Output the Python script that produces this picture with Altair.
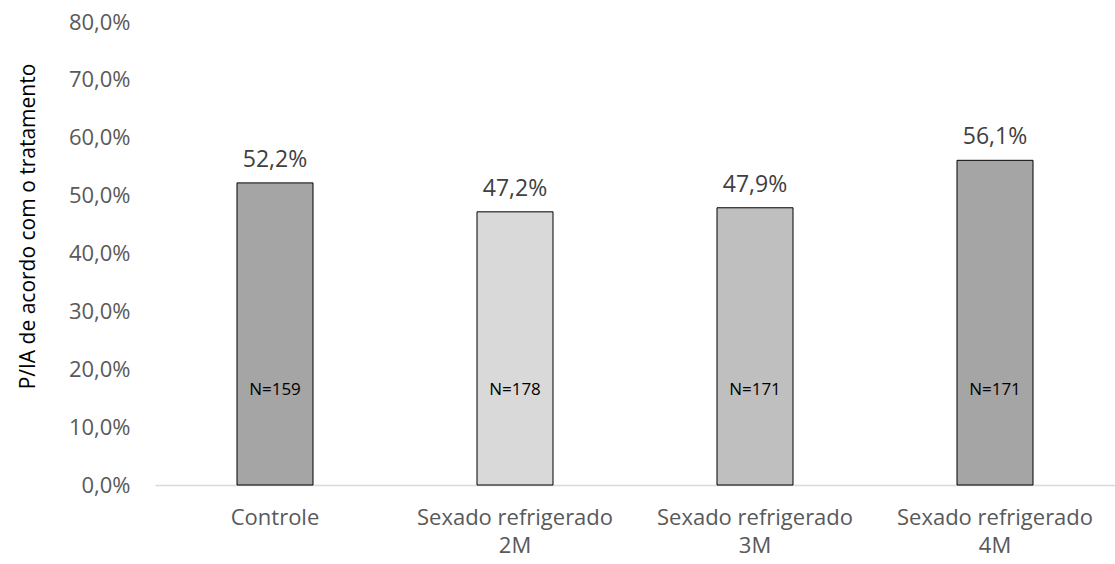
import altair as alt
import pandas as pd

categories = ["Controle", "Sexado refrigerado\n2M", "Sexado refrigerado\n3M", "Sexado refrigerado\n4M"]
values = [0.522, 0.472, 0.479, 0.561]
value_labels = ["52,2%", "47,2%", "47,9%", "56,1%"]
n_labels = ["N=159", "N=178", "N=171", "N=171"]
colors = ["#A5A5A5", "#D9D9D9", "#BFBFBF", "#A5A5A5"]

df = pd.DataFrame({
    "cat": categories,
    "val": values,
    "vlab": value_labels,
    "nlab": n_labels,
    "color": colors,
})

FONT = "Open Sans"

x = alt.X(
    "cat:N",
    sort=categories,
    scale=alt.Scale(paddingInner=0, paddingOuter=0),
    axis=alt.Axis(
        title=None,
        labelAngle=0,
        labelExpr="split(datum.value, '\\n')",
        labelFont=FONT,
        labelFontSize=22,
        labelColor="#595959",
        labelPadding=22,
        labelLineHeight=28,
        labelLimit=400,
        ticks=False,
        domainColor="#D9D9D9",
        domainWidth=1.5,
    ),
)

y_scale = alt.Scale(domain=[0, 0.8])

bars = alt.Chart(df).mark_bar(size=76, stroke="black", strokeWidth=1).encode(
    x=x,
    y=alt.Y(
        "val:Q",
        scale=y_scale,
        axis=alt.Axis(
            title="P/IA de acordo com o tratamento",
            values=[0, 0.1, 0.2, 0.3, 0.4, 0.5, 0.6, 0.7, 0.8],
            labelExpr="replace(format(datum.value, '.1%'), '.', ',')",
            labelFont=FONT,
            labelFontSize=22,
            labelColor="#595959",
            labelPadding=25,
            ticks=False,
            domain=False,
            grid=False,
            titleFont=FONT,
            titleFontSize=21,
            titleFontWeight="normal",
            titleColor="#000000",
            titleX=-127,
            titleY=204,
            titleAngle=-90,
            titleAlign="center",
            titleBaseline="middle",
        ),
    ),
    fill=alt.Fill("color:N", scale=None),
)

vtext = alt.Chart(df).mark_text(
    font=FONT, fontSize=23, color="#404040", baseline="middle", dy=-23
).encode(x=alt.X("cat:N", sort=categories), y=alt.Y("val:Q", scale=y_scale), text="vlab:N")

ntext = alt.Chart(df).mark_text(
    font=FONT, fontSize=17, color="#000000", baseline="middle"
).encode(x=alt.X("cat:N", sort=categories), y=alt.datum(0.164, scale=y_scale), text="nlab:N")

chart = (
    alt.layer(bars, vtext, ntext)
    .properties(
        width=960,
        height=463,
        autosize=alt.AutoSizeParams(type="none"),
        padding={"left": 155, "top": 22, "right": 0, "bottom": 79},
        background="white",
    )
    .configure_view(strokeWidth=0, stroke="transparent")
)

chart.save("out.html", embed_options={"renderer": "svg", "actions": False})
